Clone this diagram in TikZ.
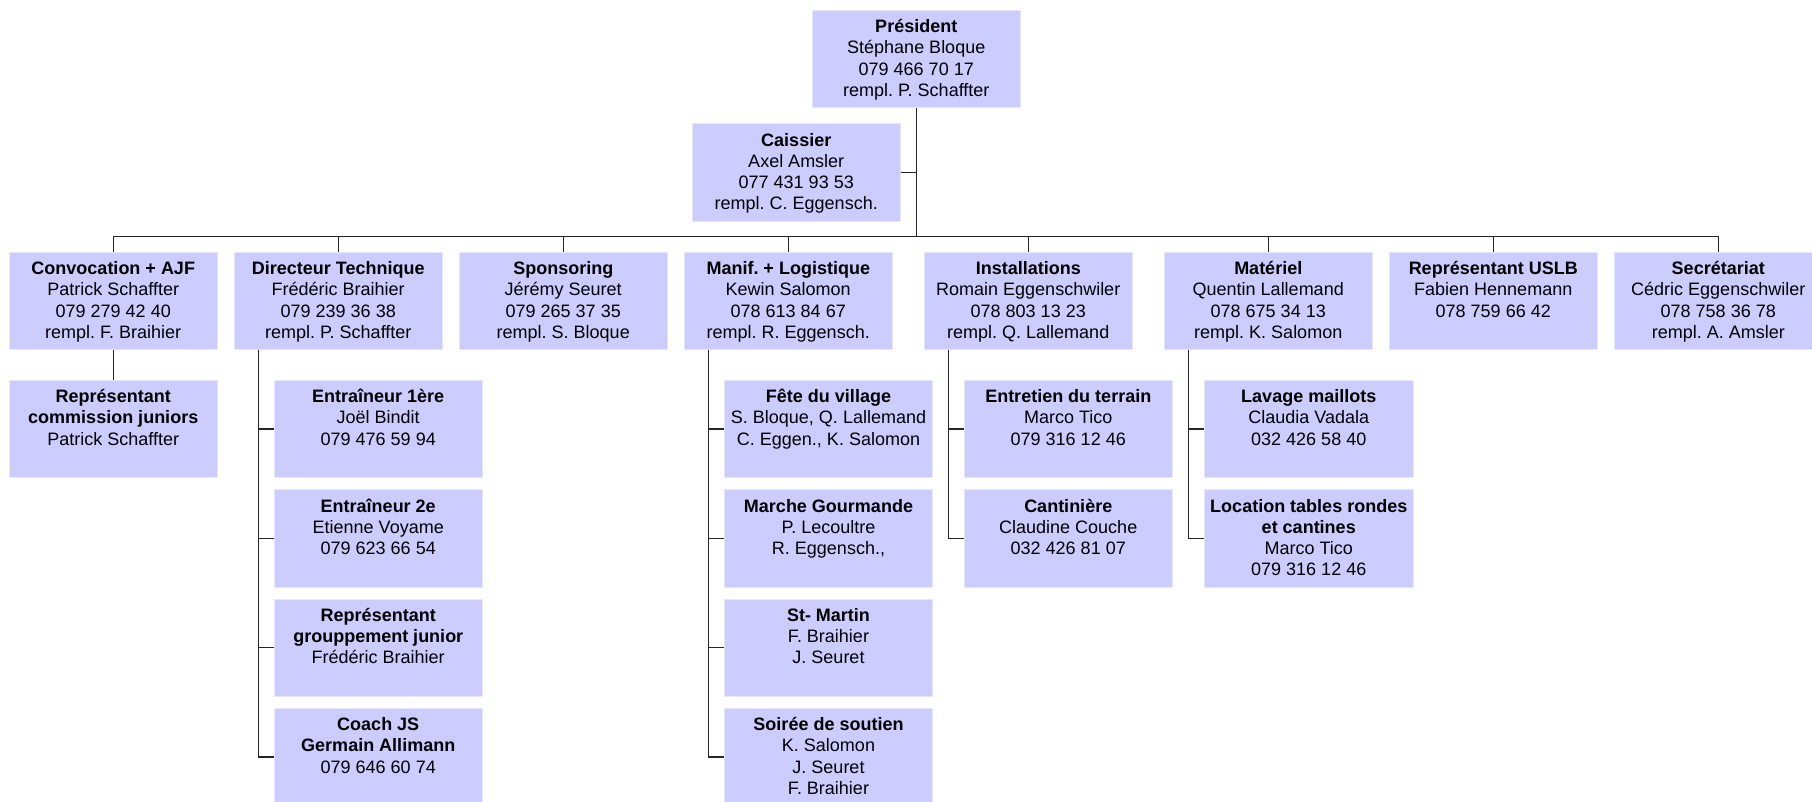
\documentclass[tikz,border=0pt]{standalone}
\usepackage{fontspec}
\setmainfont{Liberation Sans}
\usepackage{tikz}
\usepackage{xcolor}
\frenchspacing

\definecolor{boxfill}{RGB}{204,204,255}
\definecolor{boxedge}{RGB}{230,230,255}
\newcommand{\card}[1]{\parbox[c][97.5pt][t]{208.5pt}{\centering\rule{0pt}{22.5pt}#1}}
\tikzset{
  box/.style={fill=boxfill,draw=boxedge,line width=0.8pt,inner sep=0pt,font=\fontsize{18}{21.2}\selectfont},
  link/.style={draw=black!85,line width=1.1pt}
}

\begin{document}
\begin{tikzpicture}[x=1pt,y=-1pt]
  \useasboundingbox (0,0) rectangle (1812,801);
  \node (pres) at (916.25,59) [box] {\card{\textbf{Président}\\Stéphane Bloque\\079 466 70 17\\rempl. P. Schaffter}};
  \node (cais) at (796.25,172.5) [box] {\card{\textbf{Caissier}\\Axel Amsler\\077 431 93 53\\rempl. C. Eggensch.}};
  \coordinate (bus) at (916.25,237);


  \node (conv) at (113.25,301) [box] {\card{\textbf{Convocation + AJF}\\Patrick Schaffter\\079 279 42 40\\rempl. F. Braihier}};
  \node (dt) at (338.25,301) [box] {\card{\textbf{Directeur Technique}\\Frédéric Braihier\\079 239 36 38\\rempl. P. Schaffter}};
  \node (spon) at (563.25,301) [box] {\card{\textbf{Sponsoring}\\Jérémy Seuret\\079 265 37 35\\rempl. S. Bloque}};
  \node (manif) at (788.25,301) [box] {\card{\textbf{Manif. + Logistique}\\Kewin Salomon\\078 613 84 67\\rempl. R. Eggensch.}};
  \node (inst) at (1028.25,301) [box] {\card{\textbf{Installations}\\Romain Eggenschwiler\\078 803 13 23\\rempl. Q. Lallemand}};
  \node (mat) at (1268.25,301) [box] {\card{\textbf{Matériel}\\Quentin Lallemand\\078 675 34 13\\rempl. K. Salomon}};
  \node (uslb) at (1493.25,301) [box] {\card{\textbf{Représentant USLB}\\Fabien Hennemann\\078 759 66 42}};
  \node (secr) at (1718.25,301) [box] {\card{\textbf{Secrétariat}\\Cédric Eggenschwiler\\078 758 36 78\\rempl. A. Amsler}};


  \node (comm) at (113.25,429) [box] {\card{\textbf{Représentant}\\\textbf{commission juniors}\\Patrick Schaffter}};

  \node (ent1) at (378.25,429) [box] {\card{\textbf{Entraîneur 1ère}\\Joël Bindit\\079 476 59 94}};
  \node (ent2) at (378.25,538.3) [box] {\card{\textbf{Entraîneur 2e}\\Etienne Voyame\\079 623 66 54}};
  \node (grp) at (378.25,647.7) [box] {\card{\textbf{Représentant}\\\textbf{grouppement junior}\\Frédéric Braihier}};
  \node (coach) at (378.25,757) [box] {\card{\textbf{Coach JS}\\\textbf{Germain Allimann}\\079 646 60 74}};

  \node (fete) at (828.5,429) [box] {\card{\textbf{Fête du village}\\S. Bloque, Q. Lallemand\\C. Eggen., K. Salomon}};
  \node (marche) at (828.5,538.3) [box] {\card{\textbf{Marche Gourmande}\\P. Lecoultre\\R. Eggensch.,}};
  \node (martin) at (828.5,647.7) [box] {\card{\textbf{St- Martin}\\F. Braihier\\J. Seuret}};
  \node (soiree) at (828.5,757) [box] {\card{\textbf{Soirée de soutien}\\K. Salomon\\J. Seuret\\F. Braihier}};

  \node (entr) at (1068.25,429) [box] {\card{\textbf{Entretien du terrain}\\Marco Tico\\079 316 12 46}};
  \node (cant) at (1068.25,538.3) [box] {\card{\textbf{Cantinière}\\Claudine Couche\\032 426 81 07}};

  \node (lav) at (1308.75,429) [box] {\card{\textbf{Lavage maillots}\\Claudia Vadala\\032 426 58 40}};
  \node (loc) at (1308.75,538.3) [box] {\card{\textbf{Location tables rondes}\\\textbf{et cantines}\\Marco Tico\\079 316 12 46}};


  \draw[link] (pres.south) -- (bus);
  \draw[link] (cais.east) -- (cais.east -| pres.south);
  \draw[link] (conv.north) -- ++(0,-15) -| (secr.north);
  \foreach \n in {dt,spon,manif,inst,mat,uslb}
    \draw[link] (\n.north) -- ++(0,-15);
  \draw[link] (conv.south) -- (comm.north);

  \coordinate (dtrail) at ([xshift=24.7pt]dt.south west);
  \draw[link] (dtrail) |- (coach.west);
  \foreach \n in {ent1,ent2,grp}
    \draw[link] (\n.west) -- (\n.west -| dtrail);

  \coordinate (manifrail) at ([xshift=25pt]manif.south west);
  \draw[link] (manifrail) |- (soiree.west);
  \foreach \n in {fete,marche,martin}
    \draw[link] (\n.west) -- (\n.west -| manifrail);

  \coordinate (instrail) at ([xshift=24.7pt]inst.south west);
  \draw[link] (instrail) |- (cant.west);
  \draw[link] (entr.west) -- (entr.west -| instrail);

  \coordinate (matrail) at ([xshift=24.7pt]mat.south west);
  \draw[link] (matrail) |- (loc.west);
  \draw[link] (lav.west) -- (lav.west -| matrail);
\end{tikzpicture}
\end{document}
